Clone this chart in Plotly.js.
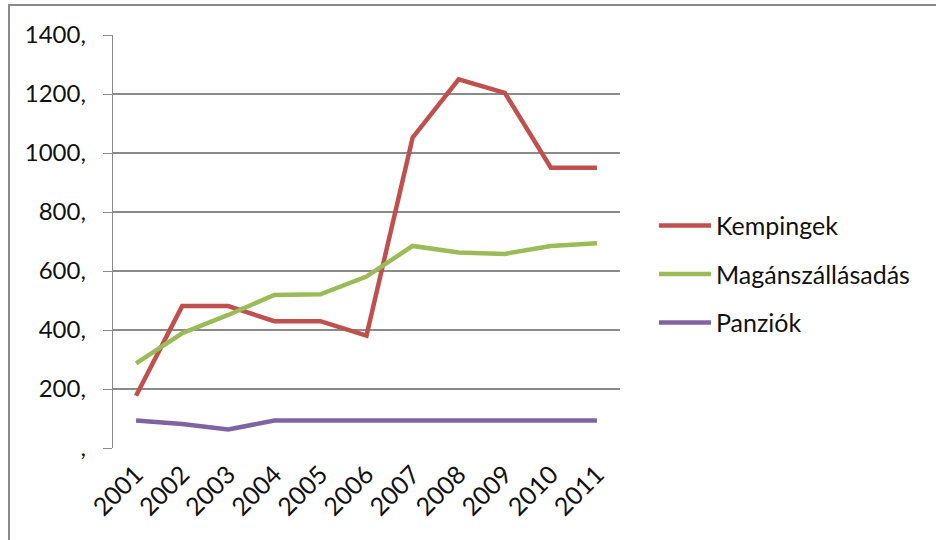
<!DOCTYPE html>
<html>
<head>
<meta charset="utf-8">
<script src="https://cdn.plot.ly/plotly-3.0.1.min.js"></script>
<style>
html,body{margin:0;padding:0;background:#fff;}
#frame{position:absolute;left:0;top:0;width:936px;height:540px;overflow:hidden;}
#bt{position:absolute;left:8px;top:4px;width:928px;height:2px;background:#8a8a8a;}
#bl{position:absolute;left:8px;top:4px;width:2px;height:536px;background:#8a8a8a;}
#chart{position:absolute;left:0;top:0;width:936px;height:540px;}
</style>
</head>
<body>
<div id="frame">
<div id="chart"></div>
<div id="bt"></div>
<div id="bl"></div>
</div>
<script>
const years = ['2001','2002','2003','2004','2005','2006','2007','2008','2009','2010','2011'];
const kempingek = [177, 481, 481, 430, 430, 381, 1052, 1250, 1204, 950, 950];
const maganszallasadas = [287, 389, 451, 519, 521, 581, 685, 663, 658, 685, 694];
const panziok = [93, 81, 63, 93, 93, 93, 93, 93, 93, 93, 93];
const yTickVals = [0, 200, 400, 600, 800, 1000, 1200, 1400];
const yTickText = [',', '200,', '400,', '600,', '800,', '1000,', '1200,', '1400,'];

const idx = years.map((_, i) => i);
const bounds = years.map((_, i) => i - 0.5).concat([years.length - 0.5]);
const font = 'Lato, "Open Sans", sans-serif';

function tr(name, y, color, g) {
  return {type:'scatter', mode:'lines', name:name, x:idx, y:y, legendgroup:g,
    line:{color:color, width:4.5}, xaxis:'x2', yaxis:'y'};
}
const data = [
  tr('Kempingek', kempingek, '#C0504D', 'a'),
  tr('Magánszállásadás', maganszallasadas, '#9BBB59', 'b'),
  tr('Panziók', panziok, '#8064A2', 'c')
];

const layout = {
  width:936, height:540,
  margin:{l:113, r:316, t:35, b:92},
  paper_bgcolor:'rgba(0,0,0,0)', plot_bgcolor:'rgba(0,0,0,0)',
  font:{family:font, size:23, color:'#111'},
  showlegend:true,
  legend:{x:1.067, xanchor:'left', xref:'paper', y:0.421, yanchor:'middle',
    font:{family:font, size:25, color:'#111'}, tracegroupgap:13, itemwidth:52,
    bgcolor:'rgba(0,0,0,0)'},
  xaxis:{range:[-0.5, years.length - 0.5], tickmode:'array', tickvals:bounds,
    ticktext:bounds.map(() => ''), ticks:'outside', ticklen:9, tickcolor:'#8a8a8a',
    showgrid:false, zeroline:false, showline:true, linecolor:'#8a8a8a', linewidth:1.3},
  xaxis2:{overlaying:'x', side:'bottom', range:[-0.5, years.length - 0.5],
    tickmode:'array', tickvals:idx, ticktext:years, tickangle:-45, ticks:'',
    showgrid:false, zeroline:false, showline:false, ticklabelstandoff:6,
    tickfont:{family:font, size:25, color:'#111'}},
  yaxis:{range:[0, 1400], tickmode:'array', tickvals:yTickVals, ticktext:yTickText,
    ticks:'outside', ticklen:9, tickcolor:'#8a8a8a', showgrid:true, gridcolor:'#8a8a8a',
    gridwidth:1.3, zeroline:false, showline:true, linecolor:'#8a8a8a', linewidth:1.3,
    tickfont:{family:font, size:24, color:'#111'}, ticklabelstandoff:12}
};
Plotly.newPlot('chart', data, layout, {displayModeBar:false, staticPlot:true});
</script>
</body>
</html>
